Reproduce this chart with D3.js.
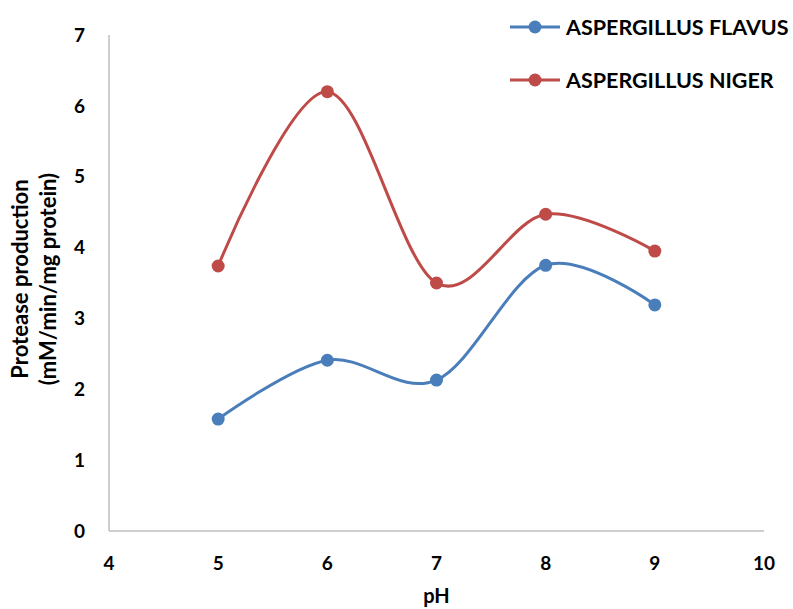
<!DOCTYPE html>
<html>
<head>
<meta charset="utf-8">
<script src="https://cdn.jsdelivr.net/npm/d3@7"></script>
<style>
  body { margin: 0; background: #fff; }
  text { font-family: Lato, "Open Sans", sans-serif; font-weight: bold; fill: #000; }
</style>
</head>
<body>
<script>
// data
var phValues = [5, 6, 7, 8, 9];
var flavus = [1.58, 2.41, 2.13, 3.75, 3.19];
var niger = [3.74, 6.2, 3.5, 4.47, 3.95];
var xTicks = [4, 5, 6, 7, 8, 9, 10];
var yTicks = [0, 1, 2, 3, 4, 5, 6, 7];
var seriesNames = ["ASPERGILLUS FLAVUS", "ASPERGILLUS NIGER"];
var colors = ["#4a7ebb", "#be4b48"];

var width = 793, height = 609;
var svg = d3.select("body").append("svg")
    .attr("width", width)
    .attr("height", height);

// scales
var x = d3.scaleLinear().domain([4, 10]).range([109, 764]);
var y = d3.scaleLinear().domain([0, 7]).range([531, 35]);

// axes lines
svg.append("line")
    .attr("x1", x(4)).attr("x2", x(4))
    .attr("y1", y(0)).attr("y2", y(7))
    .attr("stroke", "#bfbfbf").attr("stroke-width", 1.5);
svg.append("line")
    .attr("x1", x(4)).attr("x2", x(10))
    .attr("y1", y(0)).attr("y2", y(0))
    .attr("stroke", "#bfbfbf").attr("stroke-width", 1.5);

// tick labels
svg.selectAll(".ytick")
    .data(yTicks)
    .enter().append("text")
        .attr("x", 85)
        .attr("y", function(d) { return y(d); })
        .attr("dy", "0.35em")
        .style("text-anchor", "end")
        .style("font-size", "19px")
        .text(function(d) { return d; });

svg.selectAll(".xtick")
    .data(xTicks)
    .enter().append("text")
        .attr("x", function(d) { return x(d); })
        .attr("y", 563)
        .attr("dy", "0.35em")
        .style("text-anchor", "middle")
        .style("font-size", "19px")
        .text(function(d) { return d; });

// axis titles
svg.append("text")
    .attr("x", x(7))
    .attr("y", 603)
    .style("text-anchor", "middle")
    .style("font-size", "20px")
    .text("pH");

var yTitle = svg.append("text")
    .attr("transform", "translate(0,279) rotate(-90)")
    .style("text-anchor", "middle")
    .style("font-size", "22px");
yTitle.append("tspan").attr("x", 0).attr("y", 28).text("Protease production");
yTitle.append("tspan").attr("x", 0).attr("y", 56).text("(mM/min/mg protein)");

// lines
var line = d3.line()
    .x(function(d) { return x(d[0]); })
    .y(function(d) { return y(d[1]); })
    .curve(d3.curveCardinal.tension(0));

[flavus, niger].forEach(function(vals, i) {
    var pts = phValues.map(function(p, j) { return [p, vals[j]]; });
    svg.append("path")
        .datum(pts)
        .attr("d", line)
        .attr("fill", "none")
        .attr("stroke", colors[i])
        .attr("stroke-width", 3);
    svg.selectAll(".dot" + i)
        .data(pts)
        .enter().append("circle")
            .attr("cx", function(d) { return x(d[0]); })
            .attr("cy", function(d) { return y(d[1]); })
            .attr("r", 6.5)
            .attr("fill", colors[i]);
});

// legend
seriesNames.forEach(function(name, i) {
    var ly = 27 + i * 53;
    var g = svg.append("g");
    g.append("line")
        .attr("x1", 510).attr("x2", 560)
        .attr("y1", ly).attr("y2", ly)
        .attr("stroke", colors[i]).attr("stroke-width", 3);
    g.append("circle")
        .attr("cx", 535).attr("cy", ly).attr("r", 6.5)
        .attr("fill", colors[i]);
    g.append("text")
        .attr("x", 566).attr("y", ly)
        .attr("dy", "0.35em")
        .style("font-size", "21.5px")
        .text(name);
});
</script>
</body>
</html>
